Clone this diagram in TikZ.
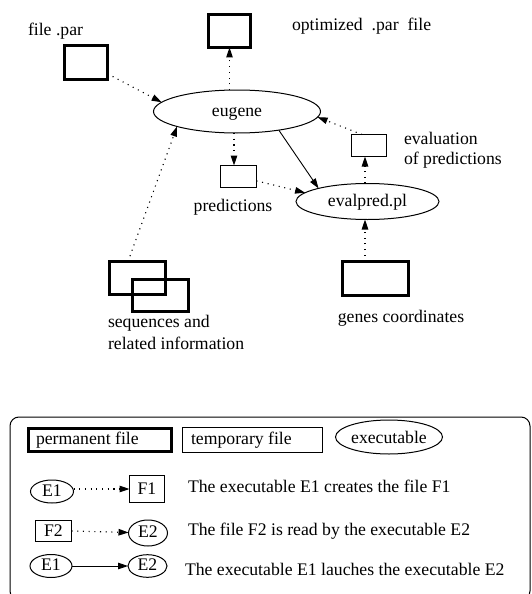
\documentclass[tikz,border=0pt]{standalone}
\usepackage{fontspec}
\setmainfont{Liberation Serif}
\usetikzlibrary{arrows.meta,shapes.geometric}
\begin{document}
\begin{tikzpicture}[x=1pt,y=-1pt,
  font=\fontsize{17.7}{21}\selectfont,
  every node/.style={inner sep=0pt,outer sep=0pt},
  permfile/.style={draw,line width=3pt},
  tempfile/.style={draw,line width=1pt},
  exe/.style={draw,ellipse,line width=1pt,text height=12.5pt,text depth=3.5pt},
  lbl/.style={anchor=base west},
  tip/.style={-{Triangle[length=10pt,width=6.5pt]}},
  reads/.style={tip,line width=1.1pt,dash pattern=on 1.1pt off 4.6pt},
  launches/.style={tip,line width=0.9pt}
]
\useasboundingbox (0,0) rectangle (531,594);

% ---------- main flow ----------
\node[permfile,minimum width=43pt,minimum height=34pt] (filepar) at (86,62.5) {};
\node[lbl] (tfilepar) at (28,36) {file .par};

\node[permfile,minimum width=42pt,minimum height=33pt] (optbox) at (229.5,31) {};
\node[lbl] (topt) at (292,31) {optimized\ \ .par\ \ file};

\node[exe,minimum width=167pt,minimum height=43pt] (eugene) at (237,111.5) {eugene};

\node[tempfile,minimum width=36pt,minimum height=22pt] (pred) at (238.5,176.5) {};
\node[anchor=base] (tpred) at (233,211) {predictions};

\node[exe,minimum width=143pt,minimum height=36pt] (evalpred) at (367.5,201.5) {evalpred.pl};

\node[tempfile,minimum width=35pt,minimum height=22pt] (evalbox) at (369,145.5) {};
\node[lbl] (teval1) at (404,144) {evaluation};
\node[lbl] (teval2) at (404,164) {of predictions};

\node[permfile,minimum width=66pt,minimum height=34pt] (genes) at (375.5,278.5) {};
\node[anchor=base] (tgenes) at (401,322) {genes coordinates};

\node[permfile,minimum width=56pt,minimum height=33pt] (seqA) at (137.5,278) {};
\node[permfile,minimum width=56pt,minimum height=32pt] (seqB) at (160.5,295.5) {};
\node[lbl] (tseq1) at (108,327) {sequences and};
\node[lbl] (tseq2) at (108,349) {related information};

% connectors
\draw[reads] (filepar) -- (eugene.173);
\draw[reads] (eugene.north -| optbox.south) -- (optbox.south);
\draw[reads] ([xshift=-4.5pt]pred.north |- eugene.south) -- ([xshift=-4.5pt]pred.north);
\draw[reads] (pred) -- (evalpred.172);
\draw[launches] (eugene.336) -- (evalpred.165);
\draw[reads] ([xshift=-4pt]evalbox.south |- evalpred.north) -- ([xshift=-4pt]evalbox.south);
\draw[reads] ([xshift=-7pt]evalbox.north) -- (eugene.356);
\draw[reads] ([xshift=-2.5pt]evalpred.south |- genes.north) -- ([xshift=-2.5pt]evalpred.south);
\draw[reads] ([xshift=-9.5pt]seqA.north) -- (eugene.194);

% ---------- legend ----------
\draw[line width=1pt,rounded corners=9pt] (10,417) rectangle (530,600);

\node[permfile,minimum width=143pt,minimum height=23pt] (kperm) at (100,440) {};
\node[lbl] (tperm) at (36,444) {permanent file};
\node[tempfile,minimum width=140pt,minimum height=25pt] (ktemp) at (252.5,440) {};
\node[lbl] (ttemp) at (191,444) {temporary file};
\node[exe,minimum width=101pt,minimum height=34pt,text depth=0pt] (kexe) at (389,437) {executable};

\node[exe,minimum width=43pt,minimum height=23pt] (ke1a) at (52,491.5) {E1};
\node[tempfile,minimum width=35pt,minimum height=27pt,text height=12.5pt,text depth=1pt] (kf1) at (147,489) {F1};
\draw[reads] (ke1a.east |- kf1.west) -- (kf1.west);
\node[lbl] (trow1) at (188,492) {The executable E1 creates the file F1};

\node[tempfile,minimum width=36pt,minimum height=21pt,text height=12.5pt,text depth=1pt] (kf2) at (53.5,530.5) {F2};
\node[exe,minimum width=39pt,minimum height=26pt] (ke2a) at (148,533) {E2};
\draw[reads] (kf2) -- (ke2a);
\node[lbl] (trow2) at (188,535) {The file F2 is read by the executable E2};

\node[exe,minimum width=42pt,minimum height=23pt] (ke1b) at (51,566) {E1};
\node[exe,minimum width=39pt,minimum height=22pt] (ke2b) at (147.5,566) {E2};
\draw[launches] (ke1b) -- (ke2b);
\node[lbl] (trow3) at (185,575) {The executable E1 lauches the executable E2};
\end{tikzpicture}
\end{document}
